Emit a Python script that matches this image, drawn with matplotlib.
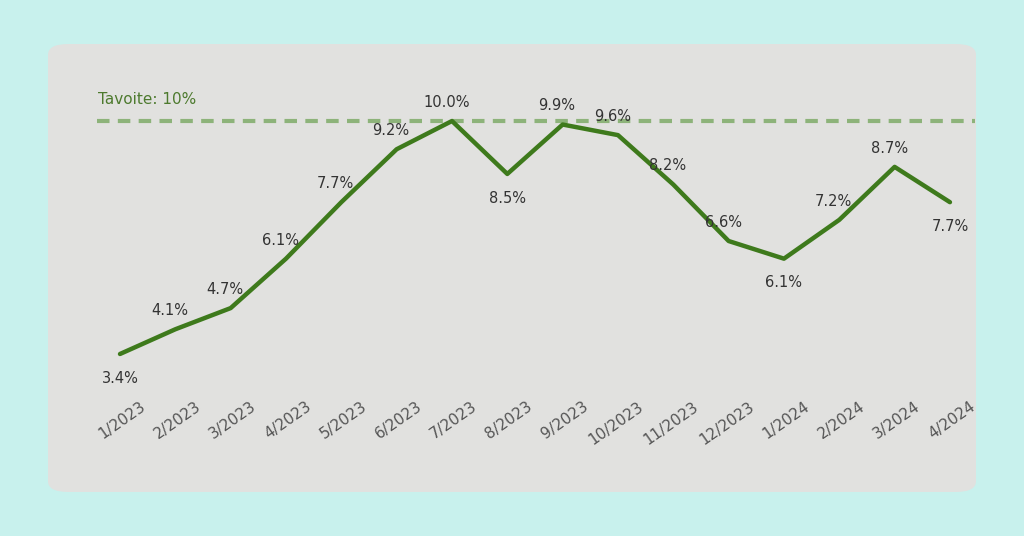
import matplotlib.pyplot as plt
from matplotlib.patches import FancyBboxPatch

months = ["1/2023", "2/2023", "3/2023", "4/2023", "5/2023", "6/2023", "7/2023", "8/2023",
          "9/2023", "10/2023", "11/2023", "12/2023", "1/2024", "2/2024", "3/2024", "4/2024"]
values = [3.4, 4.1, 4.7, 6.1, 7.7, 9.2, 10.0, 8.5, 9.9, 9.6, 8.2, 6.6, 6.1, 7.2, 8.7, 7.7]
below = [0, 7, 12, 15]
target = 10.0

W, H = 1024, 536
fig = plt.figure(figsize=(W / 100, H / 100), dpi=100)
fig.patch.set_facecolor("#c8f1ed")
panel = FancyBboxPatch((48 / W, 44 / H), 928 / W, 448 / H,
                       boxstyle="round,pad=0,rounding_size=0.02",
                       transform=fig.transFigure, facecolor="#e1e1df", edgecolor="none",
                       zorder=-10)
fig.patches.append(panel)

ax = fig.add_axes([0, 0, 1, 1])
ax.set_facecolor("none")
ax.set_zorder(5)
dx, dy = 55.33, 35.3
ax.set_xlim(-120 / dx, (W - 120) / dx)
ax.set_ylim(10 - (H - 121) / dy, 10 + 121 / dy)
ax.axis("off")

x = list(range(len(values)))
ax.axhline(target, xmin=97 / W, xmax=975 / W, color="#8db37a", lw=3, ls=(0, (3, 2)))
ax.text(-0.4, target + 0.4, "Tavoite: 10%", color="#4d7a2e", fontsize=11, va="bottom")
ax.plot(x, values, color="#3e7a1c", lw=3.2, solid_capstyle="round")

for i, v in enumerate(values):
    if i in below:
        ax.annotate(f"{v:.1f}%", (i, v), xytext=(0, -12), textcoords="offset points",
                    ha="center", va="top", fontsize=10.5, color="#333333")
    else:
        ax.annotate(f"{v:.1f}%", (i, v), xytext=(-4, 8), textcoords="offset points",
                    ha="center", va="bottom", fontsize=10.5, color="#333333")
    ax.text(i + 0.35, 10 - 278 / dy, months[i], rotation=35, ha="right", va="top",
            fontsize=11, color="#555555", rotation_mode="anchor")

fig.savefig("out.png", dpi=100, facecolor=fig.get_facecolor())
